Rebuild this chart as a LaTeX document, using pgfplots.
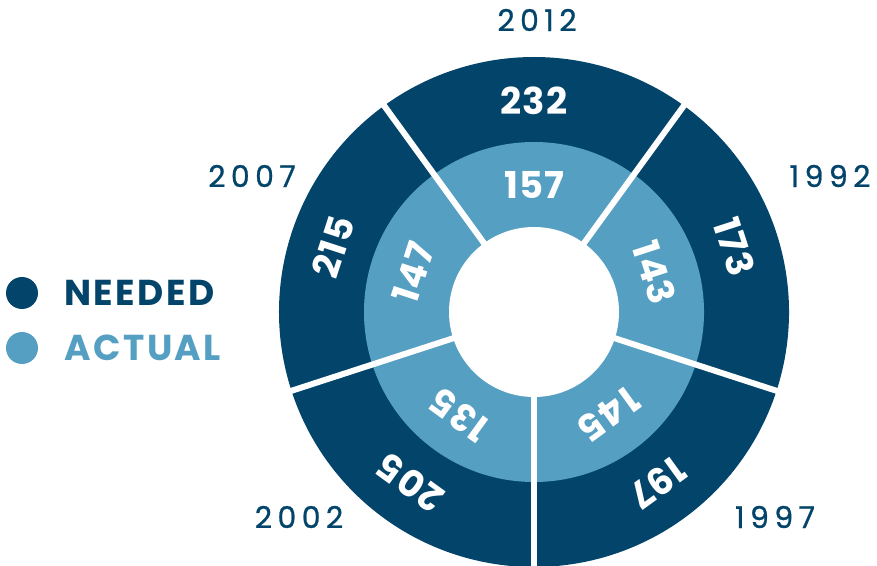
\documentclass[border=0pt]{standalone}
\usepackage{pgfplots}
\pgfplotsset{compat=1.18}
\usepackage{fontspec}
\setmainfont{Poppins}
\definecolor{dark}{HTML}{03446A}
\definecolor{light}{HTML}{559FC2}
\newcommand{\numfont}{\bfseries\fontsize{37}{37}\selectfont\addfontfeature{LetterSpace=3}}
\newcommand{\yearfont}{\fontsize{30}{30}\selectfont\addfontfeature{LetterSpace=18,FakeBold=0.8}}
\newcommand{\legfont}{\bfseries\fontsize{36}{36}\selectfont\addfontfeature{LetterSpace=7}}
% sector: center angle
\newcommand{\sector}[1]{%
  \fill[dark] (axis cs:534,253) -- ++(#1-36:255pt) arc[start angle=#1-36, end angle=#1+36, radius=255pt] -- cycle;
  \fill[light] (axis cs:534,253) -- ++(#1-36:170pt) arc[start angle=#1-36, end angle=#1+36, radius=170pt] -- cycle;
}
\newcommand{\divider}[1]{%
  \draw[white, line width=6pt] (axis cs:534,253) -- ++(#1+36:265pt);
}
% values: center angle, needed, actual
\newcommand{\vals}[3]{%
  \node[shift={(#1:211pt)}, rotate=#1-90, text=white, font=\numfont, inner sep=0pt] at (axis cs:534,253) {#2};
  \node[shift={(#1:127pt)}, rotate=#1-90, text=white, font=\numfont, inner sep=0pt] at (axis cs:534,253) {#3};
}
\begin{document}
\begin{tikzpicture}
\useasboundingbox (0,0) rectangle (877pt,565pt);
\begin{axis}[x=1pt, y=1pt, xmin=0, xmax=877, ymin=0, ymax=565, hide axis, clip=true]
% year: 2012, 1992, 1997, 2002, 2007
\sector{90}\sector{18}\sector{-54}\sector{-126}\sector{162}
\divider{90}\divider{18}\divider{-54}\divider{-126}\divider{162}
\fill[white] (axis cs:534,253) circle[radius=85pt];
\vals{90}{232}{157}
\vals{18}{173}{143}
\vals{-54}{197}{145}
\vals{-126}{205}{135}
\vals{162}{215}{147}
\node[text=dark, font=\yearfont] at (axis cs:537,545) {2012};
\node[text=dark, font=\yearfont] at (axis cs:830,389) {1992};
\node[text=dark, font=\yearfont] at (axis cs:775,48) {1997};
\node[text=dark, font=\yearfont] at (axis cs:299,48) {2002};
\node[text=dark, font=\yearfont] at (axis cs:252,389) {2007};
\fill[dark] (axis cs:22,272) circle[radius=16pt];
\fill[light] (axis cs:22,217) circle[radius=16pt];
\node[anchor=west, text=dark, font=\legfont, inner sep=0pt] at (axis cs:64,272) {NEEDED};
\node[anchor=west, text=light, font=\legfont, inner sep=0pt] at (axis cs:64,217) {ACTUAL};
\end{axis}
\end{tikzpicture}
\end{document}
